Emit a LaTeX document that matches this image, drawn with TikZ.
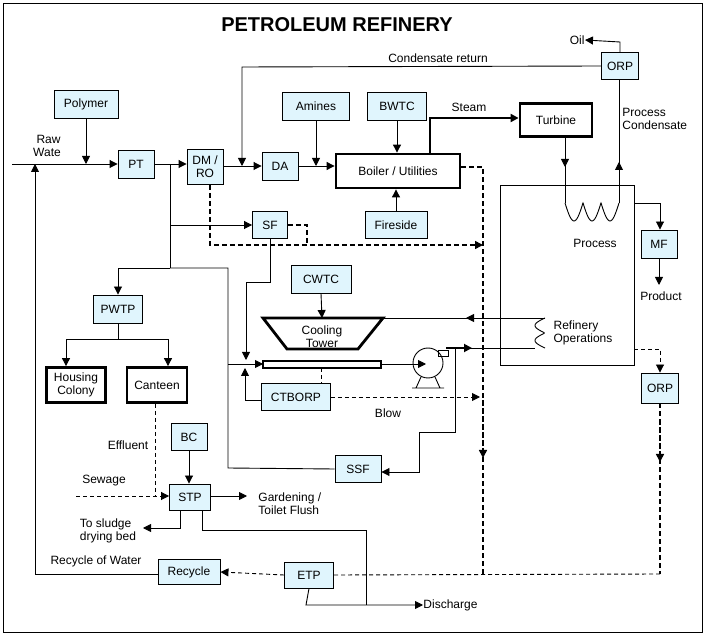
\documentclass[tikz,border=0pt]{standalone}
\usepackage{fontspec}
\setmainfont{Liberation Sans}
\usetikzlibrary{arrows.meta}
\begin{document}
\begin{tikzpicture}[x=1pt,y=-1pt,line width=0.9pt,
  font=\fontsize{12}{13}\selectfont,
  box/.style={draw,fill=cyan!12,inner sep=0pt,align=center},
  tbox/.style={draw,line width=2.8pt,inner sep=0pt,align=center},
  ar/.style={-{Triangle[length=8pt,width=8pt]}},
  dsh/.style={dash pattern=on 4pt off 3pt},
  tdsh/.style={dash pattern=on 5pt off 3pt,line width=1.6pt},
  lbl/.style={inner sep=0pt,align=left}]
\useasboundingbox (0,0) rectangle (705,636);
\draw (3,3) rectangle (702,632);
\node[font=\fontsize{20}{22}\selectfont\bfseries] (title) at (337,25) {PETROLEUM REFINERY};
% boxes
\node[box,minimum width=64,minimum height=28] (poly) at (86,104) {Polymer};
\node[box,minimum width=36,minimum height=28] (pt) at (136,164) {PT};
\node[box,minimum width=36,minimum height=35] (dm) at (205,167) {DM /\\RO};
\node[box,minimum width=36,minimum height=28] (da) at (280,166) {DA};
\node[box,minimum width=67,minimum height=28] (am) at (316,106) {Amines};
\node[box,minimum width=59,minimum height=28] (bwtc) at (397,106) {BWTC};
\node[tbox,minimum width=124,minimum height=34] (boil) at (398,171) {Boiler / Utilities};
\node[box,minimum width=62,minimum height=27] (fire) at (396,225) {Fireside};
\node[box,minimum width=35,minimum height=27] (sf) at (270,225) {SF};
\node[tbox,minimum width=72,minimum height=33] (turb) at (556,120) {Turbine};
\node[box,minimum width=37,minimum height=27] (orp1) at (620,66) {ORP};
\node[box,minimum width=36,minimum height=28] (mf) at (659,244) {MF};
\node[box,minimum width=60,minimum height=28] (cwtc) at (321,279) {CWTC};
\node[box,minimum width=69,minimum height=27] (ctb) at (296,397) {CTBORP};
\node[box,minimum width=46,minimum height=27] (ssf) at (358,469) {SSF};
\node[box,minimum width=37,minimum height=30] (orp2) at (660,388) {ORP};
\node[box,minimum width=49,minimum height=28] (pwtp) at (118,309) {PWTP};
\node[tbox,minimum width=59,minimum height=35] (hc) at (76,385) {Housing\\Colony};
\node[tbox,minimum width=60,minimum height=35] (can) at (157,385) {Canteen};
\node[box,minimum width=36,minimum height=27] (bc) at (189,437) {BC};
\node[box,minimum width=41,minimum height=26] (stp) at (190,497) {STP};
\node[box,minimum width=62,minimum height=25] (rec) at (189,572) {Recycle};
\node[box,minimum width=49,minimum height=26] (etp) at (309,575) {ETP};
% process box
\draw (500,185) rectangle (634,365);
\node[lbl] (proc) at (595,243) {Process};
\node[lbl] (refop) at (583,333) {Refinery\\Operations};
% labels
\node[lbl] (raw) at (47,146) {\ Raw\\Wate};
\node[lbl] (cr) at (438,58) {Condensate return};
\node[lbl] (steam) at (469,107) {Steam};
\node[lbl,anchor=west] (pc) at (622,119) {Process\\Condensate};
\node[lbl,anchor=east] (oil) at (585,40) {Oil};
\node[lbl] (prod) at (661,296) {Product};
\node[lbl] (blow) at (388,413) {Blow};
\node[lbl] (eff) at (128,445) {Effluent};
\node[lbl] (sew) at (104,481) {Sewage};
\node[lbl,anchor=west] (gard) at (258,504) {Gardening /\\Toilet Flush};
\node[lbl] (sl) at (108,531) {To sludge\\drying bed};
\node[lbl] (row) at (96,561) {Recycle of Water};
\node[lbl,anchor=west] (dis) at (423,605) {Discharge};
\coordinate (rawin) at (12,164);
% main water line
\draw[ar] (rawin) -- (pt.west);
\draw[ar] (poly.south) -- (86,164);
\draw[ar] (pt.east) -- (dm.west |- pt.east);
\draw[ar] (dm.east |- da.west) -- (da.west);
\draw[ar] (orp1.west) -- (242,67) -- (242,166);
\draw[ar] (da.east) -- (boil.west |- da.east);
\draw[ar] (am.south) -- (316,166);
\draw[ar] (bwtc.south) -- (bwtc.south |- boil.north);
\draw[ar] (fire.north) -- (fire.north |- boil.south);
\draw[ar,line width=2.8pt] (430,154) -- (430,118) -- (turb.west |- 0,118);
\draw[ar] (turb.south -| 565,0) -- (565,167);
\draw (565,165) -- (565,203);
\draw plot[smooth,domain=0:54,samples=55] ({565+\x},{203+18*abs(sin(\x*10))});
\draw[ar] (619,203) -- (619,162);
\draw (619,165) -- (orp1.south -| 619,0);
\draw[ar] (orp1.north) -- (620,42) -- (oil.east);
\draw[ar] (634,203) -- (660,203) -- (mf.north -| 660,0);
\draw[ar] (mf.south) -- (659,285);
% branches from PT
\draw[ar] (170,164) -- (170,225) -- (sf.west);
\draw (170,225) -- (170,268);
\draw[ar] (170,268) -- (118,268) -- (pwtp.north);
\draw (170,268) -- (228,268) -- (228,468) -- (ssf.west);
\draw[ar] (228,364) -- (263,364);
\draw[tdsh,ar] (dm.south -| 210,0) -- (210,245) -- (483,245);
\draw[tdsh] (sf.east) -- (307,225) -- (307,245);
\draw[ar] (sf.south) -- (270,282) -- (246,282) -- (246,360);
\draw[ar] (ctb.west |- 0,400) -- (245,400) -- (245,368);
% cooling tower
\draw[line width=2.8pt] (263,318) -- (383,318) -- (358,349) -- (287,349) -- cycle;
\node[lbl,align=center] (ct) at (322,337) {Cooling\\Tower};
\draw[line width=2.4pt] (263,361) rectangle (381,368);
\draw[ar] (cwtc.south) -- (322,318);
\draw[dsh] (321,368) -- (ctb.north -| 321,0);
\draw[dsh,ar] (ctb.east) -- (480,397);
% pump
\draw (428,363) circle (15);
\draw (438,350) rectangle (448,356);
\draw (412,388) -- (444,388) (416,388) -- (421,377) (440,388) -- (435,377);
\draw[ar] (381,364) -- (426,364);
\draw[ar,line width=1.8pt] (446,348) -- (472,348);
\draw (470,348) -- (535,348);
\draw plot[smooth,domain=0:30,samples=40] ({545-10*abs(sin(\x*12))},{318+\x});
\draw[ar] (545,318) -- (466,318);
\draw (470,318) -- (383,318);
\draw[ar] (455,348) -- (455,432) -- (419,432) -- (419,472) -- (ssf.east |- 0,472);
% dashed right side
\draw[tdsh] (boil.east |- 0,167) -- (483,167) -- (483,574);
\draw[tdsh,ar] (483,400) -- (483,458);
\draw[dsh,ar] (634,349) -- (660,349) -- (orp2.north);
\draw[tdsh] (orp2.south) -- (660,574);
\draw[tdsh,ar] (660,420) -- (660,462);
\draw[dsh] (660,574) -- (etp.east);
\draw[dsh,ar] (etp.west) -- (rec.east);
\draw[ar] (rec.west |- 0,574) -- (35,574) -- (35,164);
% PWTP
\draw[ar] (pwtp.south) -- (118,339) -- (66,339) -- (hc.north -| 66,0);
\draw[ar] (118,339) -- (168,339) -- (can.north -| 168,0);
\draw[dsh] (can.south -| 155,0) -- (155,496);
\draw[dsh,ar] (76,496) -- (stp.west |- 0,496);
\draw[ar] (bc.south) -- (stp.north -| bc.south);
\draw[ar] (stp.east |- 0,496) -- (247,496);
\draw[ar] (stp.south -| 180,0) -- (180,528) -- (143,528);
\draw (stp.south -| 202,0) -- (202,530) -- (366,530) -- (366,605);
\draw[ar] (etp.south) -- (306,605) -- (dis.west);
\end{tikzpicture}
\end{document}
